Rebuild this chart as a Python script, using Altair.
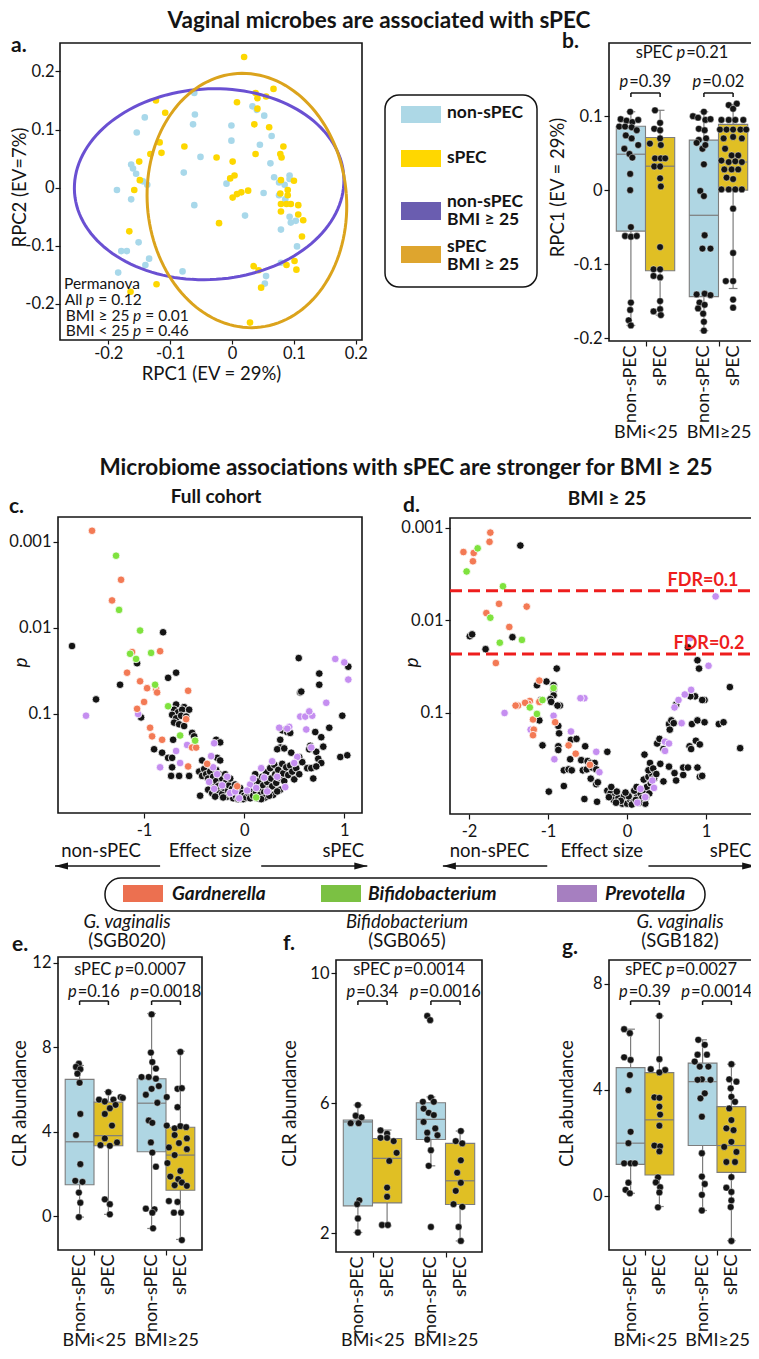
import math
import altair as alt
import pandas as pd

# ============================ data ============================
# ---- panel a: RPCA scores (RPC1, RPC2)
A_NONSPEC = [(-0.061,0.163),(-0.060,0.126),(-0.063,0.109),(-0.141,0.121),(-0.154,0.095),(-0.001,0.107),
             (-0.001,0.081),(0.033,0.140),(0.040,0.134),(0.052,0.124),(0.064,0.089),(0.045,0.074),
             (-0.051,0.053),(0.062,0.042),(-0.163,0.040),(-0.160,0.033),(-0.155,0.024),(-0.144,0.011),
             (-0.137,0.005),(-0.078,0.026),(-0.186,-0.004),(-0.163,-0.020),(-0.061,-0.030),(-0.009,0.007),
             (0.021,-0.048),(0.051,-0.009),(0.068,0.018),(0.076,0.009),(0.085,0.005),(0.093,0.021),
             (0.093,0.015),(0.076,-0.013),(0.086,-0.020),(0.093,-0.050),(0.095,-0.060),(0.103,-0.057),
             (0.079,-0.072),(0.105,-0.101),(-0.151,-0.094),(-0.179,-0.109),(-0.170,-0.109),(-0.134,-0.122),
             (-0.140,-0.133),(-0.184,-0.146),(-0.080,-0.144),(0.079,-0.129),(0.055,-0.152),(0.053,-0.165)]
A_SPEC = [(0.0195,0.225),(0.067,0.170),(0.038,0.163),(0.055,0.157),(0.041,0.154),(0.008,0.147),(-0.123,0.150),
          (-0.108,0.129),(0.041,0.136),(0.036,0.109),(0.060,0.104),(-0.117,0.078),(-0.114,0.060),(-0.132,0.058),
          (-0.077,0.071),(0.083,0.071),(0.078,0.058),(0.080,0.052),(0.038,0.058),(-0.025,0.052),(0.001,0.045),
          (-0.150,0.045),(0.004,0.021),(-0.003,0.016),(0.079,0.013),(0.100,0.012),(-0.158,-0.004),(-0.149,0.013),
          (0.026,-0.005),(0.015,-0.008),(0.008,-0.011),(0.001,-0.017),(0.090,-0.004),(0.078,-0.010),(0.090,-0.013),
          (0.079,-0.028),(0.088,-0.028),(0.095,-0.028),(0.107,-0.030),(0.079,-0.041),(0.107,-0.046),(0.115,-0.056),
          (-0.021,-0.061),(-0.166,-0.075),(0.113,-0.084),(0.035,-0.135),(0.043,-0.142),(0.101,-0.126),(0.088,-0.133),
          (0.104,-0.141),(0.047,-0.172),(-0.122,-0.166),(-0.164,-0.179),(0.029,-0.232)]
# ellipses (BMI >= 25): centre RPC1, centre RPC2, semi-axis RPC1, semi-axis RPC2, tilt (deg)
A_ELLIPSE_NONSPEC = (-0.037, 0.006, 0.218, 0.164, 4.0)
A_ELLIPSE_SPEC = (0.024, -0.022, 0.161, 0.219, 4.0)
A_PERMANOVA_HEAD = "Permanova"
A_PERMANOVA_TESTS = ["All", "BMI \u2265 25", "BMI < 25"]
A_PERMANOVA_P = ["0.12", "0.01", "0.46"]

GROUPS = ["BMi<25", "BMI\u226525"]
STATUS = ["non-sPEC", "sPEC"]

# ---- panel b: RPC1 box plots  (order: BMi<25 non-sPEC, BMi<25 sPEC, BMI>=25 non-sPEC, BMI>=25 sPEC)
B_LO = [-0.183, -0.169, -0.190, -0.133]
B_Q1 = [-0.0554, -0.109, -0.144, 0.0]
B_MED = [0.0486, 0.0324, -0.034, 0.038]
B_Q3 = [0.0865, 0.0712, 0.0676, 0.089]
B_HI = [0.106, 0.108, 0.106, 0.116]
# points: (value, horizontal jitter)
B_PTS_1 = [(0.096,-0.14),(0.094,-0.06),(0.106,-0.01),(0.092,0.02),(0.095,0.10),(0.086,-0.16),(0.086,-0.08),
           (0.085,0.01),(0.081,0.08),(0.074,-0.07),(0.070,0.01),(0.061,0.10),(0.056,-0.09),(0.049,-0.02),
           (0.044,0.02),(0.022,-0.01),(0.0,-0.01),(-0.050,0.0),(-0.062,-0.08),(-0.063,0.0),(-0.062,0.08),
           (-0.152,0.0),(-0.162,-0.01),(-0.176,-0.03),(-0.183,0.0)]
B_PTS_2 = [(0.108,-0.07),(0.091,0.0),(0.083,-0.08),(0.081,0.0),(0.070,0.0),(0.063,-0.14),(0.061,0.01),
           (0.043,-0.07),(0.043,0.01),(0.043,0.07),(0.032,-0.08),(0.032,0.0),(0.016,0.0),(0.005,0.01),
           (-0.077,0.0),(-0.107,-0.09),(-0.107,0.0),(-0.116,-0.09),(-0.118,0.0),(-0.150,0.0),(-0.164,-0.09),
           (-0.161,0.0),(-0.169,0.01)]
B_PTS_3 = [(0.100,-0.15),(0.098,-0.08),(0.106,0.0),(0.095,0.02),(0.096,0.09),(0.083,-0.07),(0.081,0.01),
           (0.068,-0.07),(0.070,0.03),(0.064,-0.10),(0.056,-0.02),(0.061,0.02),(0.035,0.0),(-0.001,-0.05),
           (-0.008,0.0),(-0.061,0.01),(-0.079,-0.02),(-0.079,0.09),(-0.141,-0.10),(-0.140,0.01),(-0.142,0.09),
           (-0.152,-0.06),(-0.155,0.01),(-0.160,-0.08),(-0.167,-0.01),(-0.178,0.0),(-0.190,0.0)]
B_PTS_4 = [(0.115,-0.06),(0.117,0.05),(0.110,0.0),(0.095,-0.16),(0.095,-0.06),(0.095,0.03),(0.095,0.14),
           (0.082,-0.18),(0.082,-0.09),(0.082,0.0),(0.082,0.10),(0.082,0.18),(0.070,-0.13),(0.072,0.0),
           (0.070,0.12),(0.056,-0.11),(0.047,-0.02),(0.047,0.07),(0.040,-0.16),(0.038,-0.06),(0.039,0.03),
           (0.038,0.12),(0.028,-0.12),(0.028,-0.02),(0.028,0.07),(0.017,-0.09),(0.015,0.0),(0.001,-0.16),
           (0.001,-0.06),(0.001,0.03),(0.001,0.12),(-0.025,0.0),(-0.085,0.0),(-0.123,-0.10),(-0.123,0.0),
           (-0.148,0.0),(-0.159,0.0)]
B_P_ALL = "0.21"
B_P_GROUP = ["0.39", "0.02"]

# ---- panel c / d: effect size vs -log10(p)
C_GARDNERELLA = [(-1.52,3.13),(-1.23,2.56),(-1.32,2.32),(-1.12,1.72),(-0.84,1.73),(-1.17,1.48),(-1.04,1.38),
                 (-0.97,1.30),(-0.88,1.29),(-0.87,1.25),(-0.56,1.27),(-1.00,1.14),(-1.07,1.06),(-0.58,0.94),
                 (-0.94,0.84),(-0.92,0.74),(-0.82,0.70),(-0.52,0.61),(-0.48,0.61),(-0.56,0.39),(-0.37,0.42),
                 (-0.07,0.16)]
C_BIFIDO = [(-1.28,2.84),(-1.25,2.21),(-1.04,1.97),(-1.14,1.70),(-1.08,1.64),(-0.93,1.71),(-0.89,1.34),
            (-0.76,1.09),(-0.64,0.75),(-0.49,0.69),(0.12,0.03)]
C_PREVOTELLA = [(-1.58,0.98),(-1.06,1.00),(-0.57,0.64),(-0.68,0.57),(-0.84,0.38),(-0.64,0.43),(-0.30,0.66),
                (-0.33,0.51),(-0.31,0.38),(-0.27,0.30),(-0.35,0.21),(-0.22,0.17),(-0.14,0.08),(-0.05,0.02),
                (-0.09,0.10),(-0.30,0.13),(-0.17,0.27),(0.91,1.64),(1.00,1.60),(1.04,1.40),(0.82,1.13),
                (0.56,0.97),(0.61,0.97),(0.68,0.98),(0.65,1.03),(0.35,0.84),(0.45,0.85),(0.43,0.83),(0.62,0.82),
                (0.67,0.61),(0.53,0.50),(0.50,0.43),(0.06,0.18),(0.03,0.11),(0.09,0.25),(0.17,0.37),(0.20,0.26),
                (0.28,0.45),(0.33,0.27),(0.12,0.14),(0.23,0.10),(0.41,0.15)]
C_OTHER = [(-1.72,1.79),(-0.81,1.95),(-1.07,1.59),(-1.24,1.34),(-0.76,1.42),(-0.68,1.48),(-1.48,1.17),
           (-0.68,1.11),(-0.60,1.08),(-1.03,0.96),(-0.70,1.05),(-0.66,1.02),(-0.62,1.05),(-0.55,1.05),
           (-0.72,0.99),(-0.68,0.95),(-0.63,0.98),(-0.58,0.97),(-0.70,0.90),(-0.65,0.88),(-0.60,0.86),
           (-0.71,0.70),(-0.52,0.78),(-0.50,0.74),(-0.90,0.59),(-0.82,0.55),(-0.76,0.49),(-0.72,0.49),
           (-0.72,0.38),(-0.73,0.28),(-0.65,0.28),(-0.55,0.28),(-0.44,0.05),(-0.42,0.46),(-0.28,0.70),
           (-0.24,0.67),(-0.27,0.49),(-0.24,0.46),(-0.45,0.33),(-0.42,0.28),(-0.40,0.36),(-0.38,0.30),
           (-0.36,0.25),(-0.34,0.33),(-0.33,0.20),(-0.31,0.27),(-0.30,0.15),(-0.28,0.35),(-0.28,0.22),
           (-0.26,0.10),(-0.25,0.30),(-0.24,0.18),(-0.22,0.25),(-0.22,0.07),(-0.20,0.14),(-0.19,0.30),
           (-0.18,0.21),(-0.17,0.04),(-0.16,0.11),(-0.15,0.17),(-0.14,0.25),(-0.13,0.06),(-0.12,0.13),
           (-0.11,0.02),(-0.10,0.09),(-0.09,0.18),(-0.08,0.04),(-0.07,0.11),(-0.06,0.01),(-0.05,0.07),
           (-0.04,0.14),(-0.03,0.03),(-0.02,0.08),(-0.01,0.01),(0.00,0.05),(-0.36,0.12),(-0.32,0.08),
           (-0.29,0.04),(-0.26,0.16),(-0.21,0.03),(0.56,1.25),(0.98,0.98),(0.545,1.65),(1.04,1.55),
           (0.75,1.47),(0.75,1.34),(0.57,1.26),(0.38,0.81),(0.43,0.79),(0.46,0.78),(0.71,0.79),(0.77,0.73),
           (0.85,0.84),(0.36,0.70),(0.36,0.61),(0.66,0.63),(0.65,0.59),(0.72,0.56),(0.79,0.62),(0.96,0.50),
           (1.03,0.52),(0.33,0.59),(0.40,0.60),(0.47,0.55),(0.55,0.50),(0.58,0.44),(0.63,0.37),(0.67,0.37),
           (0.74,0.48),(0.77,0.43),(0.72,0.39),(0.69,0.25),(0.02,0.03),(0.04,0.08),(0.06,0.02),(0.07,0.12),
           (0.09,0.05),(0.10,0.17),(0.12,0.09),(0.13,0.02),(0.14,0.22),(0.15,0.13),(0.16,0.06),(0.18,0.27),
           (0.19,0.17),(0.20,0.09),(0.21,0.03),(0.22,0.32),(0.23,0.21),(0.24,0.12),(0.26,0.37),(0.27,0.25),
           (0.28,0.16),(0.29,0.06),(0.30,0.41),(0.31,0.30),(0.32,0.20),(0.34,0.35),(0.35,0.26),(0.36,0.12),
           (0.38,0.42),(0.39,0.31),(0.40,0.22),(0.42,0.38),(0.44,0.29),(0.46,0.40),(0.48,0.33),(0.50,0.24),
           (0.52,0.37),(0.55,0.30),(0.25,0.05),(0.17,0.01),(0.11,0.30),(0.33,0.10)]

D_GARDNERELLA = [(-2.07,2.74),(-1.94,2.73),(-1.95,2.64),(-1.73,2.95),(-1.74,2.85),(-1.62,2.18),(-1.27,2.15),
                 (-1.78,2.08),(-1.49,1.93),(-1.66,1.54),(-1.11,1.35),(-1.23,1.13),(-1.25,1.10),(-1.38,1.08),
                 (-1.41,1.08),(-1.29,1.11),(-1.11,1.12),(-1.19,0.93),(-1.18,0.82),(-1.19,0.76),(-0.91,0.90),
                 (-0.74,0.65),(-0.65,0.56),(-0.47,0.44)]
D_BIFIDO = [(-1.89,2.78),(-2.03,2.53),(-1.57,2.37),(-1.73,2.03),(-1.61,1.76),(-1.33,1.79),(-0.93,1.27),
            (-1.23,1.06),(-1.07,1.14),(-1.14,0.99)]
D_PREVOTELLA = [(1.12,2.26),(0.80,1.81),(1.03,1.51),(-0.54,1.16),(0.60,1.06),(0.65,1.14),(0.73,1.20),
                (0.81,1.25),(-1.55,1.00),(-1.22,0.82),(-0.93,0.97),(-0.71,0.80),(-0.59,1.16),(-0.39,0.58),
                (-0.92,0.50),(-0.35,0.36),(0.13,0.03),(0.23,0.09),(0.32,0.27),(0.34,0.19),(0.17,0.18),
                (0.48,0.69),(0.53,0.67),(0.48,0.59),(0.69,0.89)]
D_OTHER = [(-1.35,2.81),(-1.99,1.83),(-1.96,1.85),(-1.45,1.82),(-1.79,1.69),(0.77,1.71),(0.89,1.57),
           (0.91,1.48),(1.30,1.28),(-0.89,1.48),(-1.14,1.30),(-1.02,1.34),(-0.93,1.30),(-0.93,1.25),
           (-0.93,1.19),(-0.85,1.08),(-1.09,1.14),(0.62,1.09),(0.86,1.18),(0.98,1.14),(-0.97,1.15),
           (-0.96,1.12),(-0.88,1.08),(-1.11,0.92),(-0.87,0.86),(-0.86,0.78),(-1.07,0.65),(-0.71,0.71),
           (-0.64,0.72),(-0.87,0.64),(-0.87,0.60),(-0.53,0.64),(-0.25,0.58),(-0.72,0.50),(-0.58,0.49),
           (-0.50,0.48),(-0.46,0.46),(-0.41,0.46),(-0.80,0.38),(-0.74,0.39),(-0.70,0.38),(-0.56,0.38),
           (-0.51,0.39),(-0.44,0.41),(-0.39,0.39),(-0.80,0.21),(-0.99,0.15),(-0.46,0.29),(-0.39,0.23),
           (-0.37,0.25),(-0.54,0.07),(-0.38,0.04),(-0.25,0.16),(-0.21,0.13),(-0.16,0.10),(-0.17,0.06),
           (-0.11,0.08),(-0.04,0.10),(-0.06,0.02),(0.00,0.02),(0.04,0.06),(0.08,0.04),(0.13,0.10),
           (0.17,0.13),(0.21,0.17),(0.25,0.20),(0.21,0.28),(0.27,0.31),(0.32,0.33),(0.34,0.29),(0.23,0.02),
           (0.19,0.08),(-0.20,0.20),(-0.13,0.15),(-0.08,0.05),(0.02,0.10),(0.06,0.01),(0.11,0.06),
           (0.15,0.03),(0.28,0.13),(-0.02,0.14),(0.09,0.16),(-0.23,0.09),(0.30,0.24),(0.24,0.09),
           (-0.14,0.03),(0.12,0.20),(0.22,0.55),(0.29,0.46),(0.38,0.67),(0.41,0.72),(0.46,0.61),(0.53,0.88),
           (0.56,0.92),(0.54,0.82),(0.59,0.89),(0.80,1.18),(0.95,1.14),(0.82,0.88),(0.89,0.92),(0.98,0.90),
           (1.16,0.88),(1.22,0.90),(0.87,0.70),(0.92,0.66),(0.79,0.64),(0.81,0.61),(1.43,0.62),(0.46,0.26),
           (0.53,0.42),(0.60,0.35),(0.62,0.27),(0.71,0.33),(0.71,0.41),(0.77,0.41),(0.89,0.41),(0.92,0.31),
           (0.95,0.32),(0.27,0.38),(0.33,0.40),(0.37,0.34),(0.42,0.45)]
D_FDR = [("FDR=0.1", 2.322, 1.41), ("FDR=0.2", 1.638, 1.485)]   # label, -log10 p, label right end (effect)

# ---- panels e, f, g: CLR abundance box plots
E_LO = [-0.05, 0.08, -0.59, -1.11]
E_Q1 = [1.48, 3.33, 3.05, 1.22]
E_MED = [3.52, 3.81, 5.35, 2.89]
E_Q3 = [6.48, 5.40, 6.51, 4.21]
E_HI = [7.14, 5.90, 9.60, 7.81]
E_PTS_1 = [(7.22,-0.01),(7.07,-0.05),(6.96,0.01),(6.75,-0.03),(6.32,0.0),(4.84,0.01),(3.84,-0.05),(2.46,0.01),
           (1.67,-0.06),(1.62,0.04),(1.11,-0.01),(0.63,0.01),(-0.05,-0.01)]
E_PTS_2 = [(5.87,0.0),(5.52,-0.13),(5.43,-0.05),(5.52,0.07),(5.64,0.17),(5.60,0.20),(5.27,0.10),(5.11,0.02),
           (4.84,-0.05),(4.29,0.05),(3.68,-0.05),(3.49,0.12),(3.33,0.02),(3.36,-0.11),(0.79,-0.05),(0.56,0.02),
           (0.08,0.02)]
E_PTS_3 = [(9.56,0.0),(7.75,-0.01),(7.30,0.01),(6.99,0.06),(6.59,-0.14),(6.59,-0.04),(6.51,0.06),(6.16,0.10),
           (6.03,0.0),(5.75,-0.08),(5.37,0.08),(4.53,-0.04),(4.42,0.01),(3.49,-0.01),(3.01,0.01),(2.34,0.06),
           (0.35,-0.08),(0.32,0.04),(0.16,0.01),(-0.58,0.02)]
E_PTS_4 = [(7.78,0.0),(6.03,-0.04),(6.06,0.02),(5.64,-0.19),(5.16,-0.04),(4.29,-0.19),(4.16,-0.08),(4.26,0.0),
           (4.21,0.08),(3.84,-0.08),(3.68,0.09),(3.46,-0.02),(3.25,-0.16),(3.17,0.09),(2.89,-0.08),(2.51,-0.18),
           (2.14,0.0),(1.87,-0.14),(1.75,-0.03),(1.59,0.02),(1.46,-0.08),(1.43,0.09),(0.71,-0.16),(0.16,-0.09),
           (0.16,0.01),(0.67,-0.04),(-1.14,0.02)]
E_P_ALL = "0.0007"
E_P_GROUP = ["0.16", "0.0018"]

F_LO = [2.03, 2.23, 4.08, 1.77]
F_Q1 = [2.85, 2.94, 4.89, 2.89]
F_MED = [5.43, 4.31, 5.51, 3.62]
F_Q3 = [5.49, 4.92, 6.02, 4.77]
F_HI = [5.95, 5.18, 6.20, 5.15]
F_PTS_1 = [(5.95,0.0),(5.62,-0.03),(5.57,0.05),(5.39,-0.10),(5.39,0.01),(3.02,0.02),(2.90,-0.01),(2.46,0.0),(2.03,0.0)]
F_PTS_2 = [(5.17,-0.09),(5.07,0.0),(4.94,-0.09),(4.94,0.0),(4.84,0.09),(4.48,0.13),(4.23,0.03),(3.41,0.0),
           (3.13,0.0),(2.26,-0.07),(2.26,0.01)]
F_PTS_3 = [(8.69,-0.05),(8.56,-0.01),(6.18,0.0),(6.05,-0.11),(6.05,0.04),(5.84,-0.10),(5.71,-0.03),(5.64,0.04),
           (5.43,-0.10),(5.23,0.06),(5.10,-0.05),(5.02,0.09),(4.89,-0.05),(4.56,0.0),(4.08,-0.03),(2.20,0.0)]
F_PTS_4 = [(5.15,0.01),(4.84,-0.06),(4.77,0.03),(4.25,0.01),(3.87,-0.04),(3.56,0.01),(3.31,-0.06),(2.90,-0.09),
           (2.82,0.03),(2.20,-0.02),(1.77,0.01)]
F_P_ALL = "0.0014"
F_P_GROUP = ["0.34", "0.0016"]

G_LO = [0.10, -0.40, -0.55, -1.69]
G_Q1 = [1.19, 0.79, 1.90, 0.89]
G_MED = [1.99, 2.87, 4.31, 1.90]
G_Q3 = [4.84, 4.65, 5.01, 3.37]
G_HI = [6.29, 6.79, 5.89, 4.97]
G_PTS_1 = [(6.29,-0.09),(6.14,-0.01),(5.23,-0.09),(5.13,0.0),(4.56,-0.01),(3.99,-0.03),(2.42,0.0),(1.99,-0.03),
           (1.23,-0.09),(1.23,0.0),(1.23,0.06),(0.50,-0.03),(0.23,-0.07),(0.10,-0.01)]
G_PTS_2 = [(6.79,0.0),(5.16,0.0),(4.78,-0.12),(4.75,0.08),(4.66,0.0),(3.72,-0.07),(3.70,0.0),(3.37,0.0),
           (3.07,0.01),(2.65,0.0),(1.90,-0.07),(1.87,0.01),(1.68,0.0),(0.70,-0.02),(0.51,-0.05),(0.33,0.01),
           (0.13,0.0),(-0.43,-0.02)]
G_PTS_3 = [(5.89,-0.06),(5.70,0.03),(5.33,-0.07),(5.33,0.06),(5.07,-0.11),(4.88,-0.04),(4.88,0.08),(4.40,-0.01),
           (4.38,-0.07),(4.38,0.11),(3.87,0.03),(3.68,-0.03),(2.99,-0.01),(1.61,-0.01),(0.73,-0.01),(0.45,0.03),
           (0.04,-0.01),(-0.55,-0.01)]
G_PTS_4 = [(4.97,0.0),(4.40,-0.03),(4.31,0.07),(4.06,-0.01),(3.74,0.0),(3.55,0.05),(3.30,-0.03),(2.86,0.0),
           (2.55,-0.07),(2.48,0.03),(2.04,0.0),(1.85,-0.10),(1.66,0.07),(1.28,-0.07),(1.28,0.05),(0.71,0.0),
           (0.31,-0.07),(0.15,0.0),(-0.17,0.0),(-0.42,-0.01),(-1.70,0.0)]
G_P_ALL = "0.0027"
G_P_GROUP = ["0.39", "0.0014"]

GENUS = ["Gardnerella", "Bifidobacterium", "Prevotella"]

# ============================ layout & style ============================
M = 8                 # page margin
W, H = 743, 1343      # drawing size
FONT = "Lato"
INK = "#141414"
BOX_LINE = "#7d7d7d"
BLUE_BOX, GOLD_BOX = "#afd6e3", "#e0bf24"
BLUE_PT, GOLD_PT = "#a8d8ea", "#fdd700"
ELL_PURPLE, ELL_GOLD = "#6a50d2", "#dba31c"
LEG_PURPLE, LEG_GOLD = "#6a5db0", "#dea52e"
ORANGE_PT, GREEN_PT, PURPLE_PT = "#f37a55", "#7fe23e", "#c58ef0"
ORANGE_SW, GREEN_SW, PURPLE_SW = "#ec7050", "#7bc143", "#a67fc0"
RED = "#ee1d1d"

GEO = {
    "a": dict(left=60, right=362, top=43, bottom=340, xdom=[-0.278, 0.21], ydom=[-0.262, 0.249]),
    "b": dict(left=609, right=755, top=43, bottom=341, xdom=[-0.5, 1.5], ydom=[-0.204, 0.199]),
    "c": dict(left=58, right=362, top=517, bottom=813, xdom=[-1.86, 1.177], ydom=[-0.151, 3.29]),
    "d": dict(left=450, right=752, top=518, bottom=814, xdom=[-2.24, 1.58], ydom=[-0.092, 3.108]),
    "e": dict(left=58, right=202, top=957, bottom=1250, xdom=[-0.5, 1.5], ydom=[-1.61, 12.28]),
    "f": dict(left=336, right=482, top=960, bottom=1252, xdom=[-0.5, 1.5], ydom=[1.43, 10.41]),
    "g": dict(left=609, right=753, top=960, bottom=1250, xdom=[-0.5, 1.5], ydom=[-2.04, 8.9]),
}

TICK_FS, TITLE_FS = 16.5, 18.5
NUM = "replace(format(datum.value, '~g'), '\u2212', '-')"
ONE = pd.DataFrame({"k": [0]})

CW = {" ": 0.193, ".": 0.25, "=": 0.58, "<": 0.58, "\u2265": 0.58, "-": 0.36, "p": 0.56, "s": 0.43,
      "l": 0.24, "P": 0.61, "E": 0.55, "C": 0.68}
for _d in "0123456789":
    CW[_d] = 0.58


def tw(s, size):
    return size * sum(CW.get(ch, 0.55) for ch in s)


def X(field, P, axis=None):
    return alt.X(f"{field}:Q", axis=axis,
                 scale=alt.Scale(domain=P["xdom"], range=[P["left"] - M, P["right"] - M], nice=False, zero=False))


def Y(field, P, axis=None):
    return alt.Y(f"{field}:Q", axis=axis,
                 scale=alt.Scale(domain=P["ydom"], range=[P["bottom"] - M, P["top"] - M], nice=False, zero=False))


def xpage(P, v):
    x0, x1 = P["xdom"]
    return P["left"] + (v - x0) / (x1 - x0) * (P["right"] - P["left"])


def bottom_axis(P, values, title=None, title_xy=None, **kw):
    args = dict(orient="bottom", offset=(P["bottom"] - M) - H, values=values, labelExpr=NUM, tickSize=5,
                labelPadding=2, domain=False, grid=False, labelFlush=False, labelOverlap=False,
                labelFontSize=TICK_FS, titleFontSize=TITLE_FS, title=title)
    if title is not None:
        args.update(titleX=title_xy[0] - M, titleY=title_xy[1] - P["bottom"], titleAlign="center",
                    titleBaseline="middle")
    args.update(kw)
    return alt.Axis(**args)


def left_axis(P, values, title=None, title_xy=None, **kw):
    args = dict(orient="left", offset=-(P["left"] - M), values=values, labelExpr=NUM, tickSize=5,
                labelPadding=2, domain=False, grid=False, labelFlush=False, labelOverlap=False,
                labelFontSize=TICK_FS, titleFontSize=TITLE_FS, title=title)
    if title is not None:
        args.update(titleX=title_xy[0] - P["left"], titleY=title_xy[1] - M, titleAngle=270,
                    titleAlign="center", titleBaseline="middle")
    args.update(kw)
    return alt.Axis(**args)


def ptext(txt, x, y, size, weight="normal", style="normal", align="left", color=INK):
    return alt.Chart(ONE).mark_text(text=txt, font=FONT, fontSize=size, fontWeight=weight, fontStyle=style,
                                    align=align, baseline="middle", color=color).encode(
        x=alt.value(x - M), y=alt.value(y - M))


def p_text(prefix, suffix, p_x, y, size, gap_before, gap_after):
    """'prefix p suffix' with an italic p placed at p_x (page px)."""
    out = []
    if prefix:
        out.append(ptext(prefix, p_x - gap_before, y, size, align="right"))
    out.append(ptext("p", p_x, y, size, style="italic"))
    out.append(ptext(suffix, p_x + 0.56 * size + gap_after, y, size))
    return out


def p_text_centered(prefix, suffix, cx, y, size):
    gb = 0.22 * size if prefix else 0.0
    total = tw(prefix, size) + gb + 0.56 * size + 0.03 * size + tw(suffix, size)
    p_x = cx - total / 2 + tw(prefix, size) + gb
    return p_text(prefix, suffix, p_x, y, size, gb, 0.03 * size)


def prect(x0, x1, y0, y1, **kw):
    return alt.Chart(ONE).mark_rect(**kw).encode(x=alt.value(x0 - M), x2=alt.value(x1 - M),
                                                 y=alt.value(y0 - M), y2=alt.value(y1 - M))


def border(P, xaxis=None, yaxis=None):
    df = pd.DataFrame({"x0": [P["xdom"][0]], "x1": [P["xdom"][1]], "y0": [P["ydom"][0]], "y1": [P["ydom"][1]]})
    return alt.Chart(df).mark_rect(fillOpacity=0, stroke=INK, strokeWidth=1.6).encode(
        x=X("x0", P, xaxis), x2=alt.X2("x1"), y=Y("y0", P, yaxis), y2=alt.Y2("y1"))


def ellipse_df(params, n=140):
    cx, cy, ax, ay, tilt = params
    t = math.radians(tilt)
    rows = []
    for i in range(n + 1):
        a = 2 * math.pi * i / n
        ex, ey = ax * math.cos(a), ay * math.sin(a)
        rows.append({"x": cx + ex * math.cos(t) - ey * math.sin(t),
                     "y": cy + ex * math.sin(t) + ey * math.cos(t), "o": i})
    return pd.DataFrame(rows)


layers = []

# ============================ titles and panel letters ============================
layers.append(ptext("Vaginal microbes are associated with sPEC", 379, 21, 22.5, weight="bold", align="center"))
layers.append(ptext("Microbiome associations with sPEC are stronger for BMI \u2265 25", 406, 468, 22.5,
                    weight="bold", align="center"))
layers.append(ptext("Full cohort", 216, 497, 19, weight="bold", align="center"))
layers.append(ptext("BMI \u2265 25", 607, 499, 19, weight="bold", align="center"))
for lab, lx, ly in [("a.", 11, 46), ("b.", 562, 42), ("c.", 9, 507), ("d.", 403, 506),
                    ("e.", 12, 945), ("f.", 283, 944), ("g.", 562, 948)]:
    layers.append(ptext(lab, lx, ly, 21, weight="bold"))
for t1, t2, cx in [("G. vaginalis", "(SGB020)", 127), ("Bifidobacterium", "(SGB065)", 407),
                   ("G. vaginalis", "(SGB182)", 680)]:
    layers.append(ptext(t1, cx, 921.5, 18.5, style="italic", align="center"))
    layers.append(ptext(t2, cx, 941, 18.5, align="center"))

# ============================ panel a ============================
P = GEO["a"]
df = pd.DataFrame(A_NONSPEC, columns=["x", "y"])
layers.append(alt.Chart(df).mark_circle(size=44, color=BLUE_PT, opacity=1).encode(x=X("x", P), y=Y("y", P)))
df = pd.DataFrame(A_SPEC, columns=["x", "y"])
layers.append(alt.Chart(df).mark_circle(size=44, color=GOLD_PT, opacity=1).encode(x=X("x", P), y=Y("y", P)))
for params, col in [(A_ELLIPSE_NONSPEC, ELL_PURPLE), (A_ELLIPSE_SPEC, ELL_GOLD)]:
    layers.append(alt.Chart(ellipse_df(params)).mark_line(color=col, strokeWidth=3).encode(
        x=X("x", P), y=Y("y", P), order="o:Q"))
ax_vals = [-0.2, -0.1, 0, 0.1, 0.2]
layers.append(border(P,
                     bottom_axis(P, ax_vals, "RPC1 (EV = 29%)", (211, 373), tickSize=4, labelPadding=1),
                     left_axis(P, ax_vals, "RPC2 (EV=7%)", (19, 187), labelPadding=1)))
layers.append(ptext(A_PERMANOVA_HEAD, 64, 284, 15.5))
for i, (test, pv, p_x) in enumerate(zip(A_PERMANOVA_TESTS, A_PERMANOVA_P, [86, 133, 133])):
    layers += p_text(test, "= " + pv, p_x, 300 + 15.7 * i, 15.5, 3.5, 3.5)

# ============================ legend (panel a) ============================
layers.append(prect(385, 537, 95, 287, cornerRadius=14, fillOpacity=0, stroke=INK, strokeWidth=1.5))
for (y0, y1, col) in [(106, 123, "#add8e6"), (150, 167, "#ffd700"), (202, 220, LEG_PURPLE), (246, 263, LEG_GOLD)]:
    layers.append(prect(401, 441, y0, y1, color=col))
for txt, ly in [("non-sPEC", 113), ("sPEC", 158), ("non-sPEC", 201.5), ("BMI \u2265 25", 219.5),
                ("sPEC", 246.5), ("BMI \u2265 25", 264.5)]:
    layers.append(ptext(txt, 447, ly, 17.5, weight="bold"))

# ============================ box-plot panels ============================
CENTERS = [-0.2, 0.2, 0.8, 1.2]
STATUS_EXPR = "(datum.value < 0 || (datum.value > 0.5 && datum.value < 1)) ? 'non-sPEC' : 'sPEC'"
GROUP_EXPR = "datum.value < 0.5 ? '" + GROUPS[0] + "' : '" + GROUPS[1] + "'"


def box_panel(P, lo, q1, med, q3, hi, pts, yvals, ytitle, ytitle_xy, p_all, p_groups,
              y_top, y_grp, y_br, grp_pad):
    out = []
    box_cols = [BLUE_BOX, GOLD_BOX, BLUE_BOX, GOLD_BOX]
    dfw = pd.DataFrame({"c": CENTERS, "lo": lo, "hi": hi,
                        "cl": [c - 0.06 for c in CENTERS], "cr": [c + 0.06 for c in CENTERS]})
    grp_axis = bottom_axis(P, [0, 1], labelExpr=GROUP_EXPR, labelPadding=grp_pad, labelFontSize=18)
    out.append(alt.Chart(dfw).mark_rule(color=BOX_LINE, strokeWidth=1.2).encode(
        x=X("c", P, grp_axis), y=Y("lo", P), y2=alt.Y2("hi")))
    for end in ["lo", "hi"]:
        out.append(alt.Chart(dfw).mark_rule(color=BOX_LINE, strokeWidth=1.2).encode(
            x=X("cl", P), x2=alt.X2("cr"), y=Y(end, P)))
    dfb = pd.DataFrame({"l": [c - 0.2 for c in CENTERS], "r": [c + 0.2 for c in CENTERS],
                        "q1": q1, "q3": q3, "med": med, "col": box_cols})
    out.append(alt.Chart(dfb).mark_rect(stroke=BOX_LINE, strokeWidth=1.1).encode(
        x=X("l", P), x2=alt.X2("r"), y=Y("q1", P), y2=alt.Y2("q3"),
        color=alt.Color("col:N", scale=None)))
    out.append(alt.Chart(dfb).mark_rule(color=BOX_LINE, strokeWidth=1.2).encode(
        x=X("l", P), x2=alt.X2("r"), y=Y("med", P)))
    rows = []
    for c, lst in zip(CENTERS, pts):
        for v, off in lst:
            rows.append({"x": c + off, "v": v})
    status_axis = bottom_axis(P, CENTERS, labelExpr=STATUS_EXPR, labelAngle=270, ticks=False,
                              labelPadding=4, labelFontSize=18)
    out.append(alt.Chart(pd.DataFrame(rows)).mark_circle(size=46, color=INK, opacity=1, stroke="white",
                                                          strokeWidth=0.4).encode(
        x=X("x", P, status_axis), y=Y("v", P)))
    out.append(border(P, None, left_axis(P, yvals, ytitle, ytitle_xy)))
    # annotations
    out += p_text_centered("sPEC", "=" + p_all, (P["left"] + P["right"]) / 2, y_top, 16.5)
    dfbr = pd.DataFrame({"l": [-0.2, 0.8], "r": [0.2, 1.2]})
    out.append(alt.Chart(dfbr).mark_rule(color=INK, strokeWidth=1.5).encode(
        x=X("l", P), x2=alt.X2("r"), y=alt.value(y_br - M)))
    for side in ["l", "r"]:
        out.append(alt.Chart(dfbr).mark_rule(color=INK, strokeWidth=1.5).encode(
            x=X(side, P), y=alt.value(y_br - M), y2=alt.value(y_br + 4 - M)))
    for g, pv in enumerate(p_groups):
        out += p_text_centered("", "=" + pv, xpage(P, g), y_grp, 16.5)
    return out


layers += box_panel(GEO["b"], B_LO, B_Q1, B_MED, B_Q3, B_HI, [B_PTS_1, B_PTS_2, B_PTS_3, B_PTS_4],
                    [-0.2, -0.1, 0, 0.1], "RPC1 (EV = 29%)", (557, 187), B_P_ALL, B_P_GROUP,
                    53, 82, 93, 77)
layers += box_panel(GEO["e"], E_LO, E_Q1, E_MED, E_Q3, E_HI, [E_PTS_1, E_PTS_2, E_PTS_3, E_PTS_4],
                    [0, 4, 8, 12], "CLR abundance", (19.5, 1103), E_P_ALL, E_P_GROUP, 970, 992, 1001, 76)
layers += box_panel(GEO["f"], F_LO, F_Q1, F_MED, F_Q3, F_HI, [F_PTS_1, F_PTS_2, F_PTS_3, F_PTS_4],
                    [2, 6, 10], "CLR abundance", (289, 1103), F_P_ALL, F_P_GROUP, 970, 992, 1001, 74)
layers += box_panel(GEO["g"], G_LO, G_Q1, G_MED, G_Q3, G_HI, [G_PTS_1, G_PTS_2, G_PTS_3, G_PTS_4],
                    [0, 4, 8], "CLR abundance", (566, 1103), G_P_ALL, G_P_GROUP, 970, 992, 1001, 76)

# ============================ volcano panels ============================
P_LABEL = "datum.value == 1 ? '0.1' : datum.value == 2 ? '0.01' : '0.001'"
ARROW_L = "M0,0L2,-0.55L2,0.55Z"
ARROW_R = "M0,0L-2,-0.55L-2,0.55Z"


def volcano(P, gard, bifi, prev, other, xvals, ptitle_xy, texts, arrows):
    out = []
    for lst, col in [(other, INK), (prev, PURPLE_PT), (gard, ORANGE_PT), (bifi, GREEN_PT)]:
        df = pd.DataFrame(lst, columns=["x", "y"])
        out.append(alt.Chart(df).mark_circle(size=58, color=col, opacity=1, stroke="white", strokeWidth=0.8)
                   .encode(x=X("x", P), y=Y("y", P)))
    out.append(border(P, bottom_axis(P, xvals, labelPadding=4),
                      left_axis(P, [1, 2, 3], "p", ptitle_xy, labelExpr=P_LABEL, titleFontStyle="italic",
                                titleFontSize=19)))
    dft = pd.DataFrame(texts, columns=["x", "t"])
    out.append(alt.Chart(dft).mark_text(font=FONT, fontSize=18.5, baseline="middle", color=INK).encode(
        x=X("x", P), y=alt.value(851 - M), text="t:N"))
    for x_from, x_tip in arrows:
        dfa = pd.DataFrame({"a": [x_from], "b": [x_tip]})
        out.append(alt.Chart(dfa).mark_rule(color=INK, strokeWidth=1.6).encode(
            x=X("a", P), x2=alt.X2("b"), y=alt.value(866 - M)))
        out.append(alt.Chart(dfa).mark_point(shape=ARROW_L if x_tip < x_from else ARROW_R, filled=True,
                                             size=169, color=INK, opacity=1, strokeWidth=0).encode(
            x=X("b", P), y=alt.value(866 - M)))
    return out


layers += volcano(GEO["c"], C_GARDNERELLA, C_BIFIDO, C_PREVOTELLA, C_OTHER, [-1, 0, 1], (20, 662),
                  [(-1.43, "non-sPEC"), (-0.34, "Effect size"), (0.99, "sPEC")],
                  [(-0.84, -1.89), (0.17, 1.23)])
layers += volcano(GEO["d"], D_GARDNERELLA, D_BIFIDO, D_PREVOTELLA, D_OTHER, [-2, -1, 0, 1], (411, 662),
                  [(-1.74, "non-sPEC"), (-0.32, "Effect size"), (1.31, "sPEC")],
                  [(-1.01, -2.33), (0.27, 1.62)])
P = GEO["d"]
dff = pd.DataFrame({"y": [f[1] for f in D_FDR], "x0": [P["xdom"][0]] * 2, "x1": [P["xdom"][1]] * 2,
                    "xt": [f[2] for f in D_FDR], "t": [f[0] for f in D_FDR]})
layers.append(alt.Chart(dff).mark_rule(color=RED, strokeWidth=3, strokeDash=[12, 6]).encode(
    x=X("x0", P), x2=alt.X2("x1"), y=Y("y", P)))
layers.append(alt.Chart(dff).mark_text(font=FONT, fontSize=18, fontWeight="bold", color=RED, align="right",
                                       baseline="alphabetic", dy=-5).encode(
    x=X("xt", P), y=Y("y", P), text="t:N"))

# ============================ genus legend strip ============================
layers.append(prect(105, 705, 878, 911, cornerRadius=16, fillOpacity=0, stroke=INK, strokeWidth=1.5))
for (x0, col), (name, tx) in zip([(123, ORANGE_SW), (321, GREEN_SW), (557, PURPLE_SW)],
                                 zip(GENUS, [172, 368, 605])):
    layers.append(prect(x0, x0 + 40, 885, 902, color=col))
    layers.append(ptext(name, tx, 893.5, 19, weight="bold", style="italic"))

chart = (alt.layer(*layers)
         .resolve_scale(x="independent", y="independent", color="independent")
         .resolve_axis(x="independent", y="independent")
         .properties(width=W, height=H, autosize=alt.AutoSizeParams(type="none"), padding=0)
         .configure_view(stroke=None)
         .configure_axis(labelFont=FONT, titleFont=FONT, labelColor=INK, titleColor=INK, tickColor=INK,
                         titleFontWeight="normal", tickWidth=1.2))

chart.save("out.html", embed_options={"renderer": "svg", "actions": False})
